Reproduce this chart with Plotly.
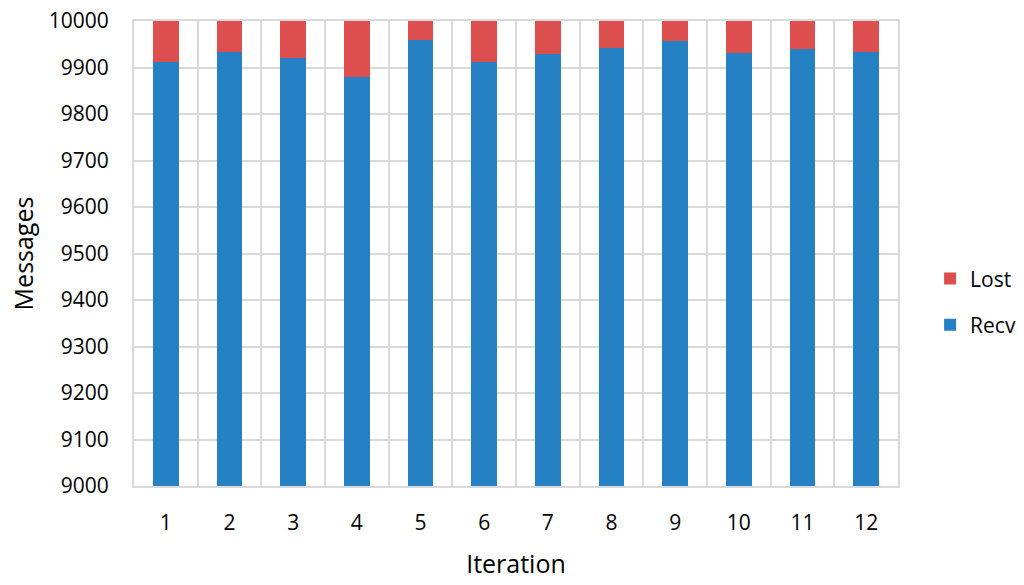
import plotly.graph_objects as go

iterations = [1, 2, 3, 4, 5, 6, 7, 8, 9, 10, 11, 12]
recv = [9911, 9934, 9921, 9880, 9960, 9911, 9928, 9942, 9957, 9931, 9940, 9933]
total = 10000
lost = [total - r for r in recv]
y_ticks = [9000, 9100, 9200, 9300, 9400, 9500, 9600, 9700, 9800, 9900, 10000]

font_family = "Open Sans, Noto Sans, sans-serif"
grid_color = "#d9d9d9"

fig = go.Figure()
fig.add_trace(go.Bar(x=iterations, y=recv, name="Recv", marker_color="#2581C4",
                     marker_line_width=0, width=0.4, legendgroup="recv", legendrank=2))
fig.add_trace(go.Bar(x=iterations, y=lost, name="Lost", marker_color="#DD4F4F",
                     marker_line_width=0, width=0.4, legendgroup="lost", legendrank=1))

fig.update_layout(
    barmode="stack",
    width=1024, height=585,
    margin=dict(l=134, r=126, t=21, b=99, autoexpand=False),
    plot_bgcolor="white", paper_bgcolor="white",
    font=dict(family=font_family, size=21, color="#000"),
    legend=dict(x=1.042, y=0.396, xanchor="left", yanchor="middle",
                traceorder="grouped", tracegroupgap=16,
                font=dict(size=21), itemwidth=30),
    xaxis=dict(
        range=[0.5, 12.5], tickvals=iterations, ticktext=[str(i) for i in iterations],
        showgrid=False, zeroline=False, automargin=False,
        showline=True, linecolor=grid_color, linewidth=2, mirror=True,
        ticks="", ticklabelstandoff=17,
        minor=dict(tick0=0.5, dtick=1, showgrid=True, gridcolor=grid_color, gridwidth=2),
        title=dict(text="Iteration", font=dict(size=25), standoff=20),
    ),
    yaxis=dict(
        range=[9000, 10000], tickvals=y_ticks, ticktext=[str(v) for v in y_ticks],
        showgrid=True, gridcolor=grid_color, gridwidth=2, zeroline=False, automargin=False,
        showline=True, linecolor=grid_color, linewidth=2, mirror=True,
        ticks="", ticklabelstandoff=19, ticklabeloverflow="allow",
        title=dict(text="Messages", font=dict(size=25), standoff=8),
    ),
)

fig.write_html("out.html", config={"displayModeBar": False},
               post_script="document.body.style.margin='0';")
